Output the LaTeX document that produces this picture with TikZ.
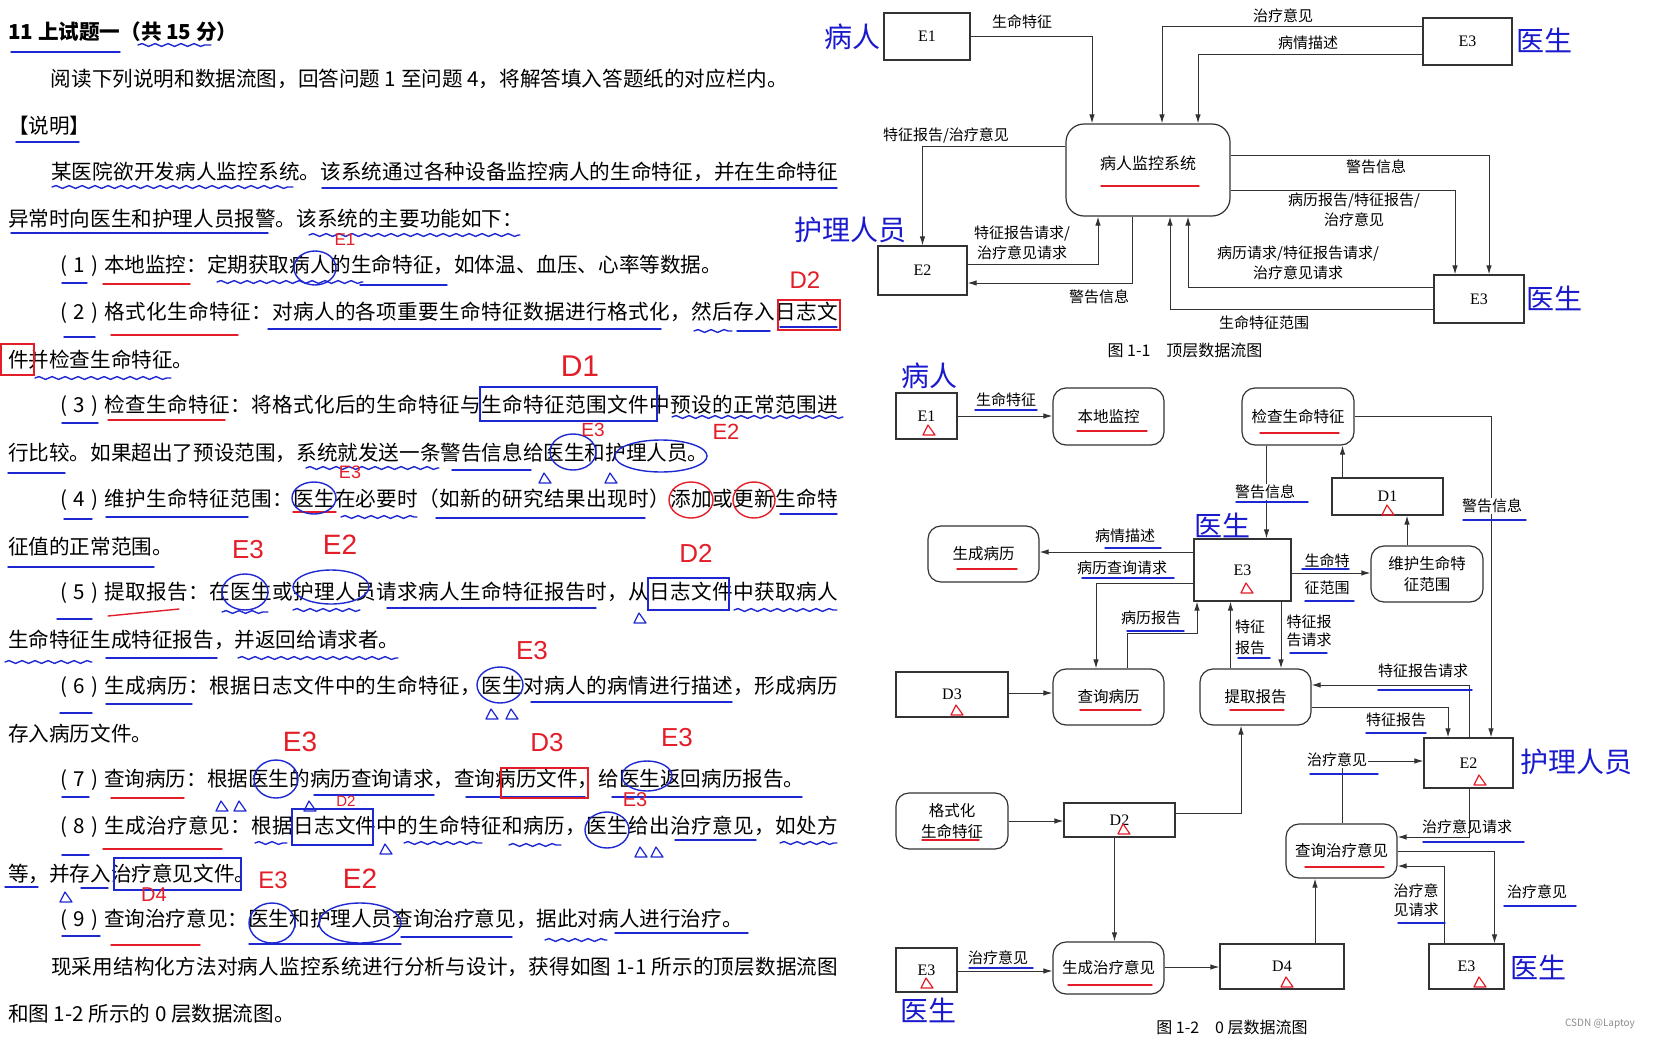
\documentclass[tikz,border=0pt]{standalone}
\usepackage{fontspec}
\setmainfont{Noto Sans CJK SC}
\newfontfamily\idfont{Liberation Serif}
\newfontfamily\handfont{Liberation Sans}
\usetikzlibrary{arrows.meta,decorations.pathmorphing}
\definecolor{penblue}{RGB}{30,40,210}
\definecolor{penred}{RGB}{228,30,40}
\definecolor{labblue}{RGB}{25,25,205}
\makeatletter
\newcommand\sprd[1]{\@tfor\sp@c:=#1\do{\sp@c\hfil}}
\makeatother
\newcommand\pfx[1]{\makebox[45pt][s]{\kern1pt(\hfil#1\hfil)\kern6pt}}
\newcommand\jl[2]{\hbox to #1{\sprd{#2}\unskip}}
\newcommand\jlp[3]{\hbox to #1{\pfx{#2}\sprd{#3}\unskip}}
\newcommand\mktri[3]{\draw[#1, line width=1.2pt, line join=round] (#2-6,#3+5) -- (#2+6,#3+5) -- (#2-1,#3-5) -- cycle;}
\tikzset{
 dbox/.style={draw=black!80, line width=1.2pt, inner sep=0pt, fill=white, font=\idfont\fontsize{16}{16}\selectfont},
 dproc/.style={draw=black!80, line width=1.2pt, inner sep=0pt, fill=white, rounded corners=13pt, align=center, font=\fontsize{15.5}{21}\selectfont},
 dflow/.style={draw=black!80, line width=1pt, -{Latex[length=9pt,width=5.5pt]}},
 dlab/.style={inner sep=1pt, align=center, font=\fontsize{15}{20}\selectfont},
 blab/.style={inner sep=0pt, text=labblue, font=\fontsize{28}{30}\selectfont},
 pblue/.style={draw=penblue, line width=1.4pt, line cap=round},
 pred/.style={draw=penred, line width=1.4pt, line cap=round},
 wavy/.style={decorate, decoration={snake, amplitude=1.4pt, segment length=13pt}},
 hlab/.style={text=penred, inner sep=0pt},
 ltxt/.style={anchor=west, inner sep=0pt, font=\fontsize{20.6}{24}\selectfont},
}
\begin{document}
\begin{tikzpicture}[x=1pt,y=-1pt]
\fill[white] (0,0) rectangle (1654,1041);
\useasboundingbox (0,0) rectangle (1654,1041);

% ---------------- left text ----------------
\node[ltxt,font=\bfseries\fontsize{20.6}{24}\selectfont] (l0) at (8,32) {11 上试题一（共 15 分）};
\node[ltxt] (l1) at (50.6,78.75) {阅读下列说明和数据流图，回答问题 1 至问题 4，将解答填入答题纸的对应栏内。};
\node[ltxt] (l2) at (8,125.5) {【说明】};
\node[ltxt] (l3) at (51,172.25) {\jl{787pt}{某医院欲开发病人监控系统。该系统通过各种设备监控病人的生命特征，并在生命特征}};
\node[ltxt] (l4) at (8,219) {异常时向医生和护理人员报警。该系统的主要功能如下：};
\node[ltxt] (l5) at (59,265.75) {\pfx{1}本地监控：定期获取病人的生命特征，如体温、血压、心率等数据。};
\node[ltxt] (l6) at (59,312.5) {\jlp{779pt}{2}{格式化生命特征：对病人的各项重要生命特征数据进行格式化，然后存入日志文}};
\node[ltxt] (l7) at (8,359.25) {件并检查生命特征。};
\node[ltxt] (l8) at (59,406) {\jlp{779pt}{3}{检查生命特征：将格式化后的生命特征与生命特征范围文件中预设的正常范围进}};
\node[ltxt] (l9) at (8,452.75) {行比较。如果超出了预设范围，系统就发送一条警告信息给医生和护理人员。};
\node[ltxt] (l10) at (59,499.5) {\jlp{779pt}{4}{维护生命特征范围：医生在必要时（如新的研究结果出现时）添加或更新生命特}};
\node[ltxt] (l11) at (8,546.25) {征值的正常范围。};
\node[ltxt] (l12) at (59,593) {\jlp{779pt}{5}{提取报告：在医生或护理人员请求病人生命特征报告时，从日志文件中获取病人}};
\node[ltxt] (l13) at (8,639.75) {生命特征生成特征报告，并返回给请求者。};
\node[ltxt] (l14) at (59,686.5) {\jlp{779pt}{6}{生成病历：根据日志文件中的生命特征，医生对病人的病情进行描述，形成病历}};
\node[ltxt] (l15) at (8,733.25) {存入病历文件。};
\node[ltxt] (l16) at (59,780) {\pfx{7}查询病历：根据医生的病历查询请求，查询病历文件，给医生返回病历报告。};
\node[ltxt] (l17) at (59,826.75) {\jlp{779pt}{8}{生成治疗意见：根据日志文件中的生命特征和病历，医生给出治疗意见，如处方}};
\node[ltxt] (l18) at (8,873.5) {等，并存入治疗意见文件。};
\node[ltxt] (l19) at (59,920.25) {\pfx{9}查询治疗意见：医生和护理人员查询治疗意见，据此对病人进行治疗。};
\node[ltxt] (l20) at (51,967) {\jl{787pt}{现采用结构化方法对病人监控系统进行分析与设计，获得如图~1-1~所示的顶层数据流图}};
\node[ltxt] (l21) at (8,1013.75) {和图 1-2 所示的 0 层数据流图。};

% ---------------- annotations on text ----------------
\foreach \a/\b/\y in {11/120/52, 16/79/142, 322/837/188, 11/268/233,
  62/87/283, 360/447/285, 64/95/337, 268/661/329, 737/770/331, 780/837/327,
  62/98/423, 8/65/473, 452/531/470, 64/92/519, 106/248/517, 436/645/518, 780/837/514,
  8/154/567, 57/92/619, 387/596/608, 106/217/658, 60/92/713, 106/192/704, 531/732/702,
  62/89/797, 314/434/795, 466/585/797, 612/802/797, 62/89/855, 675/756/840,
  5/38/887, 81/108/888, 62/100/936, 249/401/944, 401/512/937, 615/748/933}
  {\draw[pblue] (\a,\y) -- (\b,\y);}
\foreach \a/\b/\y in {138/211/45, 52/293/187, 309/520/235, 217/363/282, 694/732/331,
  35/171/378, 672/843/417, 306/439/468, 341/417/517, 222/268/612, 293/360/610,
  734/837/610, 5/92/662, 238/398/658, 255/287/843, 404/482/843, 509/561/845,
  780/837/843, 545/607/940}
  {\draw[pblue,wavy] (\a,\y) -- (\b,\y);}
\foreach \a/\b/\y in {103/190/284, 111/238/335, 108/225/420, 293/336/512, 111/184/798, 103/222/849, 111/200/945}
  {\draw[pred] (\a,\y) -- (\b,\y);}
\draw[pred] (108,616) -- (179,609);
\foreach \cx/\cy/\rx/\ry in {315/268/21/17, 573/452/23/18, 661/456/46/16, 314/498/22/16,
  245/592/23/18, 331/587/38/17, 500/685/23/18, 276/779/22/19, 647/776/25/15,
  607/830/22/18, 272/923/23/20, 360/923/41/20}
  {\draw[pblue] (\cx,\cy) ellipse [x radius=\rx pt, y radius=\ry pt];}
\foreach \cx/\cy/\rx/\ry in {691/500/22/18, 754/500/21/18}
  {\draw[pred] (\cx,\cy) ellipse [x radius=\rx pt, y radius=\ry pt];}
\draw[pblue] (480,387) rectangle (657,421);
\draw[pblue] (648,578) rectangle (729,610);
\draw[pblue] (292,809) rectangle (373,845);
\draw[pblue] (114,858) rectangle (241,890);
\draw[pred] (778,300) rectangle (840,330);
\draw[pred] (1,344) rectangle (34,375);
\draw[pred] (501,768) rectangle (588,798);
\foreach \x/\y in {545/478, 611/478, 640/618, 492/714, 512/714, 222/806, 240/806, 310/806, 386/849, 641/852, 657/852, 66/897}
  {\mktri{penblue}{\x}{\y}}
\foreach \x/\y/\t/\s [count=\i] in {345/240/E1/17, 805/280/D2/24, 580/366/D1/30, 593/430/E3/19,
  726/432/E2/22, 350/472/E3/18, 248/550/E3/26, 340/545/E2/28, 696/553/D2/26, 532/651/E3/26,
  300/742/E3/28, 547/743/D3/26, 677/738/E3/26, 346/801/D2/15, 635/800/E3/20, 273/880/E3/24,
  360/879/E2/28, 154/895/D4/20}
  {\node[hlab, font=\handfont\fontsize{\s}{\s}\selectfont] (hw\i) at (\x,\y) {\t};}

% ---------------- Figure 1-1 ----------------
\node[dbox, minimum width=86pt, minimum height=47pt] (E1a) at (927,36.5) {E1};
\node[dbox, minimum width=89pt, minimum height=47pt] (E3a) at (1467.5,41.5) {E3};
\node[dbox, minimum width=89pt, minimum height=49pt] (E2a) at (922.5,270.5) {E2};
\node[dbox, minimum width=90pt, minimum height=48pt] (E3b) at (1479,299) {E3};
\node[dproc, minimum width=164pt, minimum height=92pt, rounded corners=18pt] (sysA) at (1148,170) {};
\node[dlab, font=\fontsize{16}{18}\selectfont] (sysT) at (1148,163) {病人监控系统};
\draw[pred] (1101,186) -- (1199,186);

\draw[dflow] (E1a.east) -| (1092,0 |- sysA.north);
\draw[dflow] (E3a.west |- 0,27) -| (1162,0 |- sysA.north);
\draw[dflow] (E3a.west |- 0,55) -| (1198,0 |- sysA.north);
\draw[dflow] (sysA.west |- 0,146) -| (E2a.north);
\draw[dflow] (E2a.east |- 0,264) -| (1098,0 |- sysA.south);
\draw[dflow] (1132,0 |- sysA.south) |- (E2a.east |- 0,283);
\draw[dflow] (sysA.east |- 0,155) -| (1489,0 |- E3b.north);
\draw[dflow] (sysA.east |- 0,190) -| (1455,0 |- E3b.north);
\draw[dflow] (E3b.west |- 0,287) -| (1188,0 |- sysA.south);
\draw[dflow] (E3b.west |- 0,309) -| (1170,0 |- sysA.south);

\node[dlab] (a1) at (1022,22) {生命特征};
\node[dlab] (a2) at (1283,16) {治疗意见};
\node[dlab] (a3) at (1308,43) {病情描述};
\node[dlab] (a4) at (946,135) {特征报告/治疗意见};
\node[dlab] (a5) at (1022,243) {特征报告请求/\\治疗意见请求};
\node[dlab] (a6) at (1099,297) {警告信息};
\node[dlab] (a7) at (1376,167) {警告信息};
\node[dlab] (a8) at (1354,210) {病历报告/特征报告/\\治疗意见};
\node[dlab] (a9) at (1298,263) {病历请求/特征报告请求/\\治疗意见请求};
\node[dlab] (a10) at (1264,323) {生命特征范围};
\node[dlab, font=\fontsize{16}{18}\selectfont] (cap1) at (1185,350) {图 1-1\quad 顶层数据流图};

\node[blab] (b1) at (852,37) {病人};
\node[blab] (b2) at (1544,40) {医生};
\node[blab] (b3) at (850,230) {护理人员};
\node[blab] (b4) at (1554,298) {医生};

% ---------------- Figure 1-2 ----------------
\node[dbox, minimum width=61pt, minimum height=46pt] (E1b) at (926.5,416) {E1};
\node[dproc, minimum width=111pt, minimum height=57pt] (bdjk) at (1108.5,416.5) {本地监控};
\node[dproc, minimum width=112pt, minimum height=57pt] (jcsm) at (1298,416.5) {检查生命特征};
\node[dbox, minimum width=111pt, minimum height=37pt] (D1) at (1387.5,496.5) {D1};
\node[dproc, minimum width=112pt, minimum height=56pt] (whsm) at (1427,574) {维护生命特\\征范围};
\node[dbox, minimum width=97pt, minimum height=62pt] (E3c) at (1242.5,570) {E3};
\node[dproc, minimum width=111pt, minimum height=56pt] (scbl) at (983.5,554) {生成病历};
\node[dbox, minimum width=112pt, minimum height=45pt] (D3) at (952,694.5) {D3};
\node[dproc, minimum width=111pt, minimum height=56pt] (cxbl) at (1108.5,697) {查询病历};
\node[dproc, minimum width=111pt, minimum height=56pt] (tqbg) at (1255.5,697) {提取报告};
\node[dbox, minimum width=89pt, minimum height=50pt] (E2b) at (1468.5,763) {E2};
\node[dproc, minimum width=112pt, minimum height=56pt] (gsh) at (952,821) {格式化\\生命特征};
\node[dbox, minimum width=111pt, minimum height=34pt] (D2) at (1119.5,820) {D2};
\node[dproc, minimum width=111pt, minimum height=54pt] (cxzl) at (1341.5,851) {查询治疗意见};
\node[dproc, minimum width=111pt, minimum height=52pt] (sczl) at (1108.5,968) {生成治疗意见};
\node[dbox, minimum width=61pt, minimum height=44pt] (E3d) at (926.5,970) {E3};
\node[dbox, minimum width=124pt, minimum height=45pt] (D4) at (1282,966.5) {D4};
\node[dbox, minimum width=75pt, minimum height=45pt] (E3e) at (1466.5,966.5) {E3};

\draw[dflow] (E1b.east) -- (bdjk.west |- E1b.east);
\draw[dflow] (jcsm.east) -| (1491,0 |- E2b.north);
\draw[dflow] (1266.5,0 |- jcsm.south) -- (1266.5,0 |- E3c.north);
\draw[dflow] (1342.5,0 |- D1.north) -- (1342.5,0 |- jcsm.south);
\draw[dflow] (1407,0 |- whsm.north) -- (1407,0 |- D1.south);
\draw[dflow] (E3c.east |- 0,573) -- (whsm.west |- 0,573);
\draw[dflow] (E3c.west |- 0,552) -- (scbl.east |- 0,552);
\draw[dflow] (E3c.west |- 0,583) -| (1096,0 |- cxbl.north);
\draw[dflow] (1127,0 |- cxbl.north) |- (1197,633) -- (1197,0 |- E3c.south);
\draw[dflow] (1230.5,0 |- tqbg.north) -- (1230.5,0 |- E3c.south);
\draw[dflow] (1281,0 |- E3c.south) -- (1281,0 |- tqbg.north);
\draw[dflow] (1469,0 |- E2b.north) |- (tqbg.east |- 0,685);
\draw[dflow] (tqbg.east |- 0,707) -| (1448,0 |- E2b.north);
\draw[dflow] (D3.east |- 0,693) -- (cxbl.west |- 0,693);
\draw[dflow] (gsh.east |- 0,821) -- (D2.west |- 0,821);
\draw[dflow] (D2.east |- 0,813) -| (1241,0 |- tqbg.south);
\draw[dflow] (1114.5,0 |- D2.south) -- (1114.5,0 |- sczl.north);
\draw[dflow] (E3d.east |- 0,971) -- (sczl.west |- 0,971);
\draw[dflow] (sczl.east |- 0,967) -- (D4.west |- 0,967);
\draw[dflow] (1315,0 |- D4.north) -- (1315,0 |- cxzl.south);
\draw[dflow] (1342.5,0 |- cxzl.north) |- (E2b.west |- 0,761);
\draw[dflow] (1469,0 |- E2b.south) |- (cxzl.east |- 0,837);
\draw[dflow] (cxzl.east |- 0,851) -| (1494.5,0 |- E3e.north);
\draw[dflow] (1444,0 |- E3e.north) |- (cxzl.east |- 0,866);

\node[dlab] (c1) at (1006,400) {生命特征};
\node[dlab, fill=white] (c2) at (1265,492) {警告信息};
\node[dlab, fill=white] (c3) at (1492,506) {警告信息};
\node[dlab] (c4) at (1125,536) {病情描述};
\node[dlab] (c5) at (1122,568) {病历查询请求};
\node[dlab] (c6) at (1327,561) {生命特};
\node[dlab] (c7) at (1327,588) {征范围};
\node[dlab] (c8) at (1151,618) {病历报告};
\node[dlab, font=\fontsize{15}{21}\selectfont] (c9) at (1250,637.5) {特征\\报告};
\node[dlab, font=\fontsize{15}{18}\selectfont] (c10) at (1309,631) {特征报\\告请求};
\node[dlab] (c11) at (1423,671) {特征报告请求};
\node[dlab] (c12) at (1396,720) {特征报告};
\node[dlab, fill=white] (c13) at (1337,760) {治疗意见};
\node[dlab] (c14) at (1467,827) {治疗意见请求};
\node[dlab] (c15) at (1537,892) {治疗意见};
\node[dlab, font=\fontsize{15}{19}\selectfont] (c16) at (1416,900.5) {治疗意\\见请求};
\node[dlab] (c17) at (998,958) {治疗意见};
\node[dlab, font=\fontsize{16}{18}\selectfont] (cap2) at (1232,1027) {图 1-2\quad 0 层数据流图};
\node[inner sep=0pt, text=black!45, font=\fontsize{10}{12}\selectfont] (csdn) at (1600,1024) {CSDN @Laptoy};

\node[blab] (b5) at (929,376) {病人};
\node[blab] (b6) at (1222,525) {医生};
\node[blab] (b7) at (1576,762) {护理人员};
\node[blab] (b8) at (1538,967) {医生};
\node[blab] (b9) at (928,1010) {医生};

\foreach \a/\b/\y in {975/1037/410, 1236/1308/502, 1463/1526/520, 1105/1161/548, 1082/1174/578,
  1302/1349/569, 1305/1354/601, 1127/1184/631, 1238/1270/658, 1290/1327/653, 1378/1472/690,
  1366/1426/733, 1310/1378/774, 1423/1524/842, 1504/1576/906, 1398/1445/923, 969/1033/968}
  {\draw[pblue] (\a,\y) -- (\b,\y);}
\foreach \a/\b/\y in {1077/1147/431, 1260/1339/433, 957/1017/569, 1080/1141/710, 1230/1284/710,
  922/979/840, 1305/1384/867, 1068/1152/985}
  {\draw[pred] (\a,\y) -- (\b,\y);}
\foreach \x/\y in {929/430, 1388/510, 1247/588, 957/710, 1480/780, 1124/829, 927/983, 1287/982, 1480/982}
  {\mktri{penred}{\x}{\y}}
\end{tikzpicture}
\end{document}
